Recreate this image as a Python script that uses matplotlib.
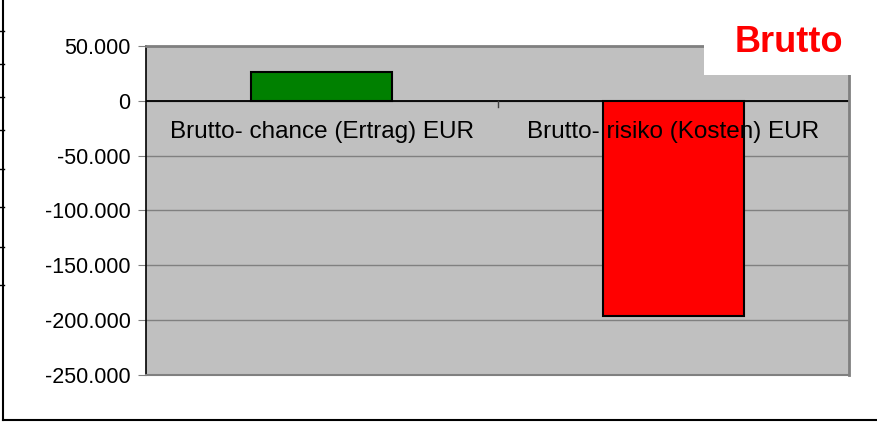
import numpy as np
import matplotlib.pyplot as plt
from matplotlib.patches import Rectangle
from matplotlib.lines import Line2D
from matplotlib.ticker import FuncFormatter

plt.rcParams['font.family'] = ['Liberation Sans', 'DejaVu Sans']

categories = ['Brutto- chance (Ertrag) EUR', 'Brutto- risiko (Kosten) EUR']
values = [26500, -196000]
colors = ['#008000', '#ff0000']
yticks = [50000, 0, -50000, -100000, -150000, -200000, -250000]

W, H = 877, 422
fig = plt.figure(figsize=(W / 100, H / 100), dpi=100)
ax = fig.add_axes([146 / W, 1 - 375 / H, (849 - 146) / W, (375 - 46) / H])
ax.set_facecolor('#c0c0c0')

x = np.arange(len(categories))
ax.bar(x, values, width=0.4, color=colors, edgecolor='black', linewidth=1.5, zorder=3)
ax.set_xlim(-0.5, 1.5)
ax.set_ylim(-250000, 50000)

ax.set_yticks(yticks)
ax.yaxis.set_major_formatter(FuncFormatter(lambda v, p: '{:,.0f}'.format(v).replace(',', '.')))
ax.tick_params(axis='y', labelsize=15.5, length=6, color='#808080', pad=5)
ax.set_xticks([])
ax.grid(axis='y', color='#808080', linewidth=1, zorder=0)
ax.axhline(0, color='black', linewidth=1.3, zorder=2)
# tick at category boundary on the zero line
ax.plot([0.5, 0.5], [0, -6000], color='#404040', linewidth=1, zorder=2)

for xi, lab in zip(x, categories):
    ax.text(xi, -28500, lab, ha='center', va='center', fontsize=17.5, zorder=5)

for side in ['top', 'right']:
    ax.spines[side].set_color('#808080')
    ax.spines[side].set_linewidth(2)
ax.spines['bottom'].set_color('#808080')
ax.spines['bottom'].set_linewidth(1.5)
ax.spines['left'].set_color('black')
ax.spines['left'].set_linewidth(1.2)

# white box with title
fig.patches.append(Rectangle((704 / W, 1 - 75 / H), 180 / W, 75 / H, transform=fig.transFigure,
                             facecolor='white', edgecolor='none', zorder=10))
fig.text(789 / W, 1 - 42 / H, 'Brutto', color='#ff0000', fontsize=26, fontweight='bold',
         ha='center', va='center', zorder=11)

# outer frame pieces
fig.add_artist(Line2D([3 / W, 3 / W], [1, 1 - 420 / H], color='black', linewidth=1.5))
fig.add_artist(Line2D([3 / W, 1], [1 - 420 / H, 1 - 420 / H], color='black', linewidth=1.5))
for yy in [31, 64, 97, 130, 169, 207, 247, 285]:
    fig.add_artist(Line2D([0, 4 / W], [1 - yy / H, 1 - yy / H], color='black', linewidth=1))

fig.savefig('out.png', dpi=100)
